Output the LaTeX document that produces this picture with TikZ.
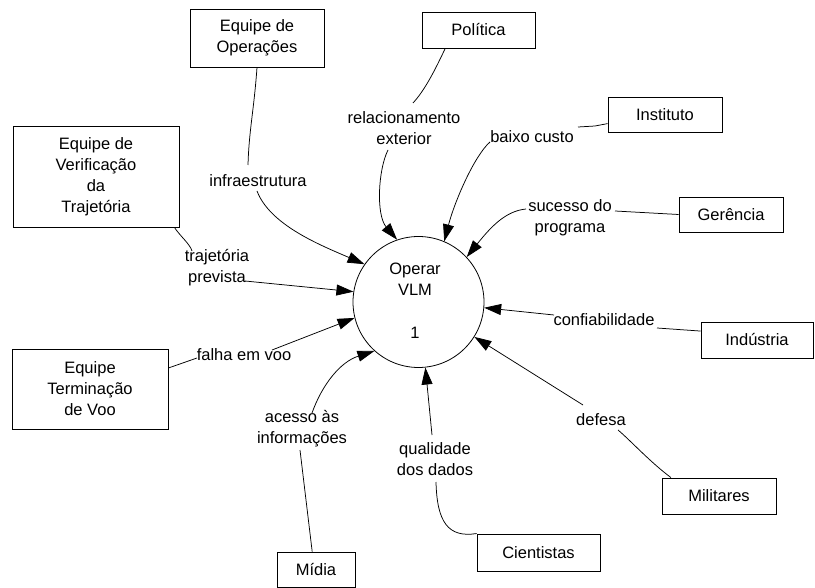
\documentclass[tikz,border=0pt]{standalone}
\usepackage{fontspec}
\setmainfont{Liberation Sans}
\usetikzlibrary{arrows.meta}
\newcommand\dfdfont{\fontsize{16.5}{21}\selectfont}
\begin{document}
\begin{tikzpicture}[x=1pt,y=-1pt,
  ent/.style={draw, line width=0.9pt, align=center, inner sep=0pt, font=\dfdfont},
  lbl/.style={align=center, inner sep=0pt, font=\dfdfont},
  flow/.style={line width=0.75pt},
  arr/.style={line width=0.75pt, -{Triangle[length=17pt,width=11pt]}}]
\useasboundingbox (0,0) rectangle (815,588);
% process
\node[draw, circle, minimum size=131pt, line width=0.8pt] (proc) at (418.5,302) {};
\node[lbl] (ptxt) at (415,279) {Operar\\VLM};
\node[lbl] (pnum) at (415,333) {1};
% entities
\node[ent, minimum width=134pt, minimum height=58pt] (ops) at (257,38) {Equipe de\\Operações};
\node[ent, minimum width=166pt, minimum height=101pt] (ver) at (96,176.5) {Equipe de\\Verificação\\da\\Trajetória};
\node[ent, minimum width=113pt, minimum height=36pt] (pol) at (478.5,30) {Política};
\node[ent, minimum width=114pt, minimum height=35pt] (inst) at (665,114.5) {Instituto};
\node[ent, minimum width=104pt, minimum height=35pt] (ger) at (731,214.5) {Gerência};
\node[ent, minimum width=156pt, minimum height=80pt] (term) at (90,389) {Equipe\\Terminação\\de Voo};
\node[ent, minimum width=78pt, minimum height=35pt] (midia) at (316,569.5) {Mídia};
\node[ent, minimum width=112pt, minimum height=36pt] (ind) at (757,340) {Indústria};
\node[ent, minimum width=114pt, minimum height=36pt] (mil) at (719,496) {Militares};
\node[ent, minimum width=123pt, minimum height=37pt] (cien) at (538.5,552.5) {Cientistas};
% labels
\node[lbl] (lops) at (258,181) {infraestrutura};
\node[lbl] (lpol) at (404,128) {relacionamento\\exterior};
\node[lbl] (linst) at (532,137) {baixo custo};
\node[lbl] (lger) at (570,218) {sucesso do\\programa};
\node[lbl] (lver) at (217,268) {trajetória\\prevista};
\node[lbl] (lterm) at (244,355) {falha em voo};
\node[lbl] (lmid) at (302,429) {acesso às\\informações};
\node[lbl] (lcien) at (435,459) {qualidade\\dos dados};
\node[lbl] (lind) at (604,320) {confiabilidade};
\node[lbl] (lmil) at (601,420) {defesa};
% connector ends
\coordinate (o1) at (248,165); \coordinate (o2) at (257,191);
\coordinate (p1) at (413,103); \coordinate (p2) at (388,150);
\coordinate (i1) at (578,127); \coordinate (i2) at (490,142);
\coordinate (g1) at (615,211); \coordinate (g2) at (526,209);
\coordinate (v1) at (192,251); \coordinate (v2) at (245,281);
\coordinate (t1) at (197,358); \coordinate (t2) at (272,350);
\coordinate (m1) at (300,450); \coordinate (m2) at (312,413);
\coordinate (c1) at (436,482); \coordinate (c2) at (432,435);
\coordinate (n1) at (657,328); \coordinate (n2) at (554,315);
\coordinate (d1) at (618,430); \coordinate (d2) at (583,405);
% lines from entities to labels
\draw[flow] (ops.south) .. controls (254,110) and (249,130) .. (o1);
\draw[flow] (pol.209.7) .. controls (435,70) and (425,90) .. (p1);
\draw[flow] (inst.189.5) -- (595,126) -- (i1);
\draw[flow] (ger.west) -- (g1);
\draw[flow] (ver.327) .. controls (180,236) and (190,244) .. (v1);
\draw[flow] (term.15.8) -- (t1);
\draw[flow] (midia.102.9) -- (m1);
\draw[flow] (cien.north west) .. controls (448,538) and (437,522) .. (c1);
\draw[flow] (ind.171.9) -- (n1);
\draw[flow] (mil.159.8) .. controls (650,462) and (630,440) .. (d1);
% arrows into the process
\draw[arr] (o2) .. controls (270,225) and (320,245) .. (proc.145);
\draw[arr] (p2) .. controls (378,170) and (376,215) .. (proc.109.5);
\draw[arr] (i2) .. controls (475,155) and (455,200) .. (proc.67);
\draw[arr] (g2) .. controls (505,211) and (490,228) .. (proc.43);
\draw[arr] (v2) -- (proc.171);
\draw[arr] (t2) -- (proc.194);
\draw[arr] (m2) .. controls (322,385) and (340,362) .. (proc.228);
\draw[arr] (c2) -- (proc.276);
\draw[arr] (n2) -- (proc.355);
\draw[arr] (d2) -- (proc.328);
\end{tikzpicture}
\end{document}
